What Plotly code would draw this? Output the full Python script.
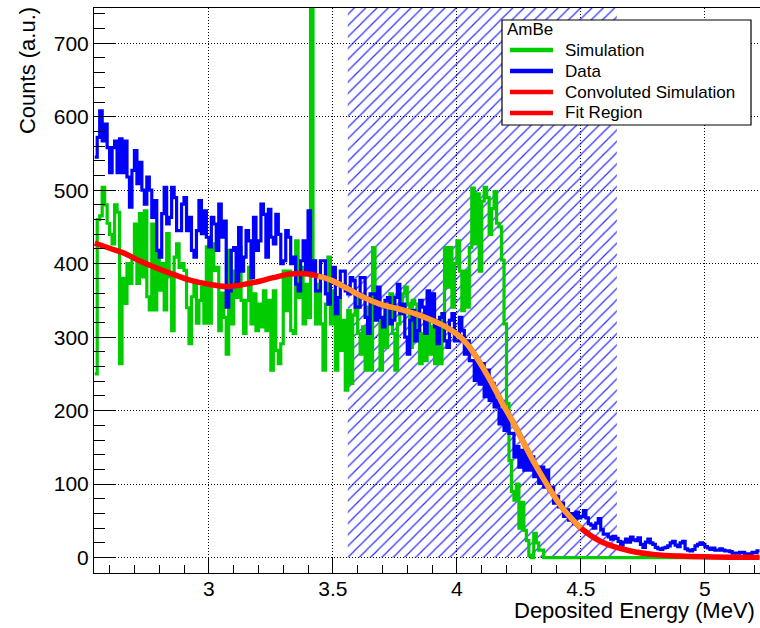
import numpy as np
import plotly.graph_objects as go

# ---------------- data ----------------
bin_start = 2.54      # MeV, low edge of first bin
bin_width = 0.01      # MeV

data_counts = [
    545, 572, 608, 567, 590, 558, 524, 558, 567, 524,
    570, 524, 567, 518, 477, 527, 554, 509, 538, 500,
    481, 518, 500, 463, 486, 418, 409, 468, 504, 454,
    463, 504, 490, 445, 445, 481, 490, 445, 463, 418,
    409, 445, 486, 441, 472, 436, 423, 463, 454, 418,
    481, 436, 458, 341, 363, 418, 422, 372, 449, 390,
    409, 445, 431, 381, 463, 418, 431, 481, 467, 409,
    474, 436, 427, 467, 440, 400, 404, 445, 436, 400,
    409, 372, 363, 404, 431, 390, 472, 390, 404, 363,
    363, 404, 404, 359, 345, 377, 395, 332, 354, 390,
    390, 363, 359, 381, 377, 341, 341, 381, 381, 327,
    305, 359, 359, 323, 368, 327, 314, 350, 354, 318,
    323, 354, 372, 332, 345, 300, 277, 323, 336, 295,
    309, 350, 341, 305, 363, 323, 359, 314, 291, 327,
    332, 295, 286, 323, 332, 295, 295, 327, 309, 277,
    295, 268, 268, 241, 264, 236, 264, 219, 255, 214,
    237, 205, 214, 182, 201, 173, 196, 169, 169, 137,
    151, 123, 146, 119, 142, 119, 137, 110, 123, 101,
    123, 96, 119, 92, 96, 74, 83, 69, 74, 56,
    65, 51, 60, 46, 62, 54, 56, 64, 54, 46,
    44, 40, 47, 53, 38, 32, 32, 28, 25, 29,
    26, 22, 17, 21, 25, 21, 28, 24, 23, 27,
    18, 14, 21, 25, 20, 18, 14, 12, 11, 13,
    14, 16, 20, 22, 17, 15, 20, 22, 12, 10,
    9, 11, 16, 18, 20, 18, 15, 13, 11, 13,
    10, 10, 12, 10, 9, 9, 8, 6, 6, 6,
    7, 7, 5, 5, 5, 7, 7, 9]

sim_counts = [
    250, 460, 465, 504, 480, 455, 440, 427, 480, 470,
    264, 380, 346, 400, 373, 409, 454, 373, 468, 382,
    472, 355, 337, 454, 337, 418, 364, 400, 337, 441,
    382, 309, 409, 427, 395, 400, 391, 340, 291, 355,
    373, 319, 350, 368, 319, 423, 319, 427, 391, 395,
    309, 360, 327, 277, 418, 318, 390, 354, 422, 350,
    305, 350, 395, 318, 359, 309, 345, 314, 363, 309,
    350, 255, 363, 282, 264, 291, 390, 336, 390, 309,
    305, 431, 354, 395, 318, 372, 327, 760, 404, 318,
    372, 318, 255, 345, 409, 318, 363, 255, 350, 282,
    323, 228, 336, 237, 330, 359, 305, 277, 314, 255,
    341, 255, 422, 359, 327, 255, 323, 286, 341, 359,
    305, 255, 318, 332, 359, 368, 345, 286, 350, 345,
    309, 264, 305, 268, 323, 277, 314, 264, 323, 264,
    332, 422, 368, 422, 341, 400, 431, 390, 336, 390,
    341, 422, 503, 427, 495, 390, 485, 504, 490, 440,
    475, 498, 455, 450, 405, 318, 210, 132, 90, 78,
    100, 40, 75, 37, 23, 3, 0, 33, 20, 10,
    10, 0, 0, 0, 0, 0, 0, 0, 0, 0,
    0, 0, 0, 0, 0, 0, 0, 0, 0, 0,
    0, 0, 0, 0, 0, 0, 0, 0, 0, 0,
    0, 0, 0, 0, 0, 0, 0, 0, 0, 0,
    0, 0, 0, 0, 0, 0, 0, 0, 0, 0,
    0, 0, 0, 0, 0, 0, 0, 0, 0, 0,
    0, 0, 0, 0, 0, 0, 0, 0, 0, 0,
    0, 0, 0, 0, 0, 0, 0, 0, 0, 0,
    0, 0, 0, 0, 0, 0, 0, 0]

conv_energy = [2.54, 2.60, 2.66, 2.72, 2.79, 2.86, 2.92, 3.00, 3.07, 3.13,
               3.19, 3.26, 3.33, 3.40, 3.44, 3.49, 3.56, 3.62, 3.69, 3.77,
               3.83, 3.90, 3.95, 4.00, 4.04, 4.08, 4.13, 4.18, 4.23, 4.32,
               4.42, 4.50, 4.58, 4.70, 4.80, 4.90, 5.00, 5.10, 5.22]
conv_counts = [428, 421, 414, 404, 394, 385, 378, 372, 369, 371,
               375, 381, 386, 386, 383, 378, 366, 355, 345, 338,
               332, 323, 315, 304, 291, 272, 244, 212, 182, 124,
               70, 40, 22, 9, 4, 2, 1, 0.5, 0.3]

fit_energy = [3.44, 3.49, 3.56, 3.62, 3.69, 3.77, 3.83, 3.90, 3.95, 4.00,
              4.04, 4.08, 4.13, 4.18, 4.23, 4.32, 4.42, 4.50]
fit_counts = [383, 378, 366, 355, 345, 338, 332, 323, 315, 304,
              291, 272, 244, 212, 182, 124, 70, 40]

band_energy = [3.56, 4.645]     # hatched region
band_counts = [0, 800]

x_ticks = [3, 3.5, 4, 4.5, 5]
x_tick_labels = ["3", "3.5", "4", "4.5", "5"]
y_ticks = [0, 100, 200, 300, 400, 500, 600, 700]
y_tick_labels = ["0", "100", "200", "300", "400", "500", "600", "700"]

legend_title = "AmBe"
legend_names = ["Simulation", "Data", "Convoluted Simulation", "Fit Region"]

# ---------------- figure ----------------
edges = bin_start + bin_width * np.arange(len(data_counts) + 1)


def step(vals):
    return list(edges), list(vals) + [vals[-1]]


FONT = "Liberation Sans, Arial, Helvetica, sans-serif"
GREEN = "#00cc00"
BLUE = "#0000ff"
RED = "#ff0000"
ORANGE = "#ff9933"
legend_colors = [GREEN, BLUE, RED, RED]

fig = go.Figure()

bx0, bx1 = band_energy
by0, by1 = band_counts
fig.add_trace(go.Scatter(
    x=[bx0, bx1, bx1, bx0, bx0], y=[by0, by0, by1, by1, by0],
    mode="lines", line=dict(width=0), fill="toself",
    fillcolor="rgba(0,0,0,0)",
    fillpattern=dict(shape="/", fgcolor="#0000ff", bgcolor="rgba(0,0,0,0)",
                     fgopacity=0.8, size=8, solidity=0.16),
    showlegend=False, hoverinfo="skip"))

sx, sy = step(sim_counts)
fig.add_trace(go.Scatter(x=sx, y=sy, mode="lines", line_shape="hv",
                         line=dict(color=GREEN, width=3.2), name="Simulation",
                         showlegend=False))
dx, dy = step(data_counts)
fig.add_trace(go.Scatter(x=dx, y=dy, mode="lines", line_shape="hv",
                         line=dict(color=BLUE, width=3.2), name="Data",
                         showlegend=False))
fig.add_trace(go.Scatter(x=conv_energy, y=conv_counts, mode="lines",
                         line_shape="spline",
                         line=dict(color=RED, width=5.5),
                         name="Convoluted Simulation", showlegend=False))
fig.add_trace(go.Scatter(x=fit_energy, y=fit_counts, mode="lines",
                         line_shape="spline",
                         line=dict(color=ORANGE, width=5.5),
                         name="Fit Region", showlegend=False))

# ---- legend box drawn in paper coordinates (ROOT TLegend look) ----
L, T, PW, PH = 94, 8, 666, 565      # plot-area geometry in px


def px(xp):
    return (xp - L) / PW


def py(yp):
    return (T + PH - yp) / PH


shapes = [dict(type="rect", xref="paper", yref="paper",
               x0=px(502), x1=px(751), y0=py(125), y1=py(20),
               fillcolor="white", line=dict(color="black", width=1.2),
               layer="above")]
annotations = [dict(text=legend_title, xref="paper", yref="paper",
                    x=px(505), y=py(29), xanchor="left", yanchor="middle",
                    showarrow=False,
                    font=dict(family=FONT, size=17, color="black"))]
row_y = [50, 71, 92, 113]
for name, col, ry in zip(legend_names, legend_colors, row_y):
    shapes.append(dict(type="line", xref="paper", yref="paper",
                       x0=px(510), x1=px(553), y0=py(ry), y1=py(ry),
                       line=dict(color=col, width=4.5), layer="above"))
    annotations.append(dict(text=name, xref="paper", yref="paper",
                            x=px(563), y=py(ry), xanchor="left",
                            yanchor="middle", showarrow=False,
                            font=dict(family=FONT, size=17, color="black")))

annotations += [
    dict(text="Deposited Energy (MeV)", xref="paper", yref="paper",
         x=0.9955, y=-0.067, xanchor="right", yanchor="middle",
         showarrow=False, font=dict(family=FONT, size=22, color="black")),
    dict(text="Counts (a.u.)", xref="paper", yref="paper",
         x=-0.1, y=1.005, xanchor="center", yanchor="top",
         textangle=-90, showarrow=False,
         font=dict(family=FONT, size=22, color="black")),
]

axis_common = dict(
    showline=True, linecolor="black", linewidth=1, mirror=True,
    showgrid=True, gridcolor="#000000", gridwidth=1, griddash="1px,2px",
    zeroline=False, ticks="inside", tickcolor="black", tickwidth=1,
    tickfont=dict(family=FONT, size=21, color="black"),
)

fig.update_layout(
    width=760, height=628,
    margin=dict(l=L, r=0, t=T, b=628 - T - PH),
    paper_bgcolor="white", plot_bgcolor="white",
    font=dict(family=FONT, color="black"),
    showlegend=False,
    xaxis=dict(range=[2.537, 5.222], tickmode="array", tickvals=x_ticks,
               ticktext=x_tick_labels, ticklen=15, ticklabelstandoff=-3,
               minor=dict(tickmode="linear", tick0=0, dtick=0.1,
                          ticks="inside", ticklen=8, tickcolor="black",
                          showgrid=False),
               **axis_common),
    yaxis=dict(range=[-21, 748], tickmode="array", tickvals=y_ticks,
               ticktext=y_tick_labels, ticklen=22,
               minor=dict(tickmode="linear", tick0=0, dtick=20,
                          ticks="inside", ticklen=11, tickcolor="black",
                          showgrid=False),
               **axis_common),
    shapes=shapes,
    annotations=annotations,
)

fig.write_html("out.html")
